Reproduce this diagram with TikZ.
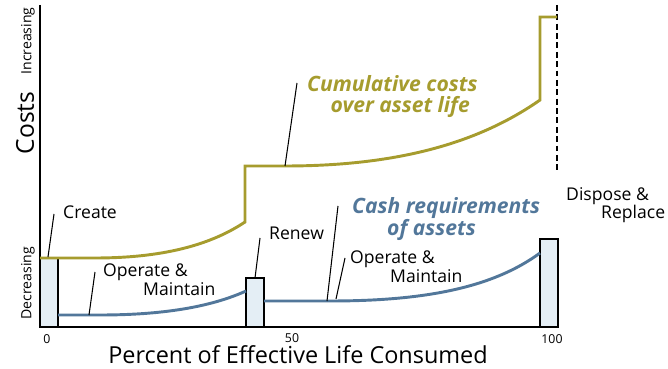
\documentclass[tikz,border=0pt]{standalone}
\usepackage{fontspec}
\setmainfont{Open Sans}
\usepackage{xcolor}
\definecolor{costolive}{HTML}{A69C2E}
\definecolor{cashblue}{HTML}{52779A}
\definecolor{boxfill}{HTML}{E4EEF5}

\begin{document}
\begin{tikzpicture}[
  x=0.03cm, y=-0.03cm,
  box/.style={draw=black, line width=1.8pt, fill=boxfill},
  axis/.style={line width=1.8pt},
  costline/.style={draw=costolive, line width=2.5pt},
  cashline/.style={draw=cashblue, line width=2.5pt},
  leader/.style={line width=0.9pt},
  lbl/.style={font=\fontsize{15}{16}\selectfont, align=left, inner sep=0pt, anchor=north west},
  curvelbl/.style={font=\fontsize{18}{18}\selectfont\bfseries\itshape, align=left, inner sep=0pt, anchor=north west},
  ylbl/.style={font=\fontsize{12}{13}\selectfont, rotate=90, inner sep=0pt},
  tick/.style={font=\fontsize{10.5}{12}\selectfont, inner sep=0pt}
]
\useasboundingbox (0,0) rectangle (668,369);

% Phase boxes
\draw[box] (40,258) rectangle (58,327);
\draw[box] (246,278) rectangle (264,327);
\draw[box] (540,239) rectangle (558,327);

% Axes
\draw[axis] (40,5) -- (40,327) -- (558,327);

% Dispose line
\draw[line width=1.8pt, dashed, dash pattern=on 5pt off 3pt] (557,5) -- (557,172);

% Cumulative costs
\draw[costline] (40,258) -- (95,258) .. controls (170,258) and (215,242) .. (245,222)
  -- (245,166) -- (285,166) .. controls (400,166) and (480,142) .. (540,100)
  -- (540,17) -- (557,17);

% Cash requirements
\draw[cashline] (58,315) -- (100,315) .. controls (170,315) and (215,305) .. (246,291);
\draw[cashline] (264,301) -- (330,301) .. controls (430,301) and (495,286) .. (540,253);

% Axis labels
\node[ylbl] (incr) at (28,41) {Increasing};
\node[ylbl, font=\fontsize{21}{22}\selectfont] (costs) at (25,123) {Costs};
\node[ylbl] (decr) at (28,283) {Decreasing};
\node[tick] (zero) at (47,339) {0};
\node[tick] (fifty) at (292,338) {50};
\node[tick] (hundred) at (552,339) {100};
\node[font=\fontsize{20}{22}\selectfont, inner sep=0pt] (xtitle) at (298,355) {Percent of Effective Life Consumed};

% Labels
\node[lbl] (create) at (63,206) {Create};
\node[lbl] (opone) at (103,264) {Operate \&\\\hspace*{1.2cm}Maintain};
\node[lbl] (renew) at (269,227) {Renew};
\node[lbl] (optwo) at (350,251) {Operate \&\\\hspace*{1.2cm}Maintain};
\node[lbl] (dispose) at (566,187) {Dispose \&\\\hspace*{1.05cm}Replace};
\node[curvelbl, text=costolive] (cumul) at (307,75) {Cumulative costs\\\hspace*{0.7cm}over asset life};
\node[curvelbl, text=cashblue] (cash) at (352,197) {Cash requirements\\\hspace*{1.05cm}of assets};

% Leaders
\coordinate (creatept) at (48,257);
\coordinate (createtip) at (54,214);
\coordinate (oponept) at (89,315);
\coordinate (oponetip) at (95,272);
\coordinate (renewpt) at (255,278);
\coordinate (renewtip) at (260,238);
\coordinate (cashpt) at (327,301);
\coordinate (cashtip) at (338,206);
\coordinate (optwopt) at (336,299);
\coordinate (optwotip) at (345,258);
\coordinate (cumulpt) at (285,166);
\coordinate (cumultip) at (297,83);

\draw[leader] (creatept) -- (createtip);
\draw[leader] (oponept) -- (oponetip);
\draw[leader] (renewpt) -- (renewtip);
\draw[leader] (cashpt) -- (cashtip);
\draw[leader] (optwopt) -- (optwotip);
\draw[leader] (cumulpt) -- (cumultip);

\end{tikzpicture}
\end{document}
